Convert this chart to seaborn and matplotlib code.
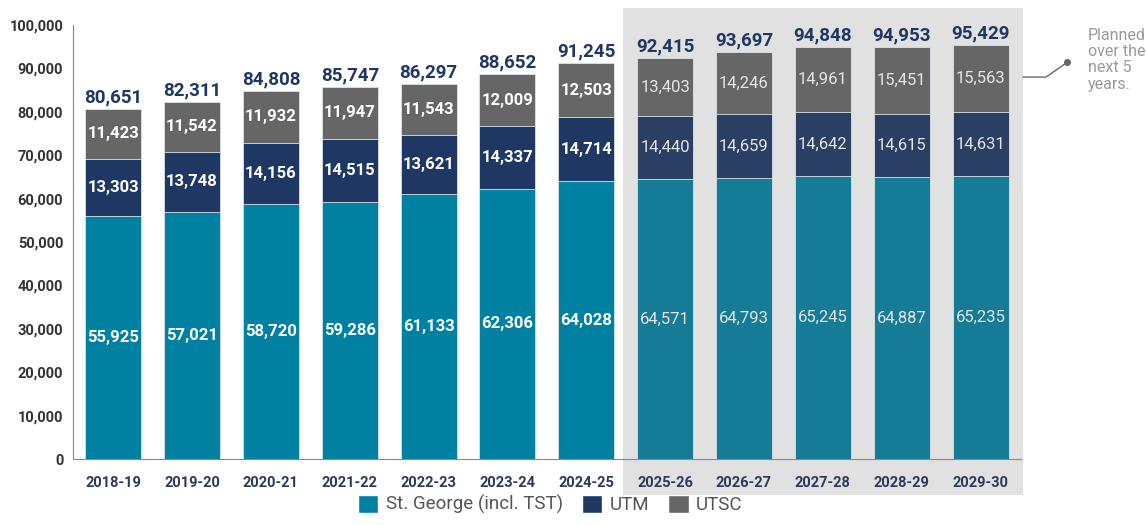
import numpy as np
import pandas as pd
import matplotlib.pyplot as plt
import seaborn as sns
from matplotlib.patches import Rectangle, Patch

# Enrolment data
years = ['2018-19', '2019-20', '2020-21', '2021-22', '2022-23', '2023-24', '2024-25',
         '2025-26', '2026-27', '2027-28', '2028-29', '2029-30']
st_george = [55925, 57021, 58720, 59286, 61133, 62306, 64028, 64571, 64793, 65245, 64887, 65235]
utm = [13303, 13748, 14156, 14515, 13621, 14337, 14714, 14440, 14659, 14642, 14615, 14631]
utsc = [11423, 11542, 11932, 11947, 11543, 12009, 12503, 13403, 14246, 14961, 15451, 15563]
# published totals (rounded, so not always the exact sum)
totals = [80651, 82311, 84808, 85747, 86297, 88652, 91245, 92415, 93697, 94848, 94953, 95429]
n_actual = 7  # first planned year index

df = pd.DataFrame({'year': years, 'sg': st_george, 'utm': utm, 'utsc': utsc, 'total_lbl': totals})
df['sg_utm'] = df['sg'] + df['utm']
df['total'] = df['sg_utm'] + df['utsc']

sns.set_style('white')
plt.rcParams['font.family'] = ['Roboto', 'DejaVu Sans']

# colours: planned years sit on a grey band, so they look a bit muted
c_sg = ['#0081A1'] * n_actual + ['#167B97'] * (len(years) - n_actual)
c_utm = ['#1F3763'] * n_actual + ['#2A3F63'] * (len(years) - n_actual)
c_utsc = ['#666666'] * len(years)

fig = plt.figure(figsize=(11.46, 5.25), dpi=100)
ax = fig.add_axes([0.0637, 0.1257, 0.827, 0.8267])

# shaded band behind the planned years (covers tick labels as well)
ax.add_patch(Rectangle((n_actual - 0.54, -8300), len(years) - n_actual + 0.08, 112200,
                       facecolor='#E1E1E1', edgecolor='none', clip_on=False, zorder=0))

# stacked bars drawn as cumulative layers
for col, colors in [('total', c_utsc), ('sg_utm', c_utm), ('sg', c_sg)]:
    sns.barplot(data=df, x='year', y=col, hue='year', palette=colors, legend=False,
                width=0.71, ax=ax, edgecolor='#DDE3EA', linewidth=0.6, saturation=1, zorder=2)

for i, row in df.iterrows():
    planned = i >= n_actual
    tc = '#E6E6E6' if planned else 'white'
    fw = 'normal' if planned else 'bold'
    ax.text(i, row['sg'] / 2, f"{row['sg']:,}", ha='center', va='center',
            color=tc, fontsize=12, fontweight=fw, zorder=3)
    ax.text(i, row['sg'] + row['utm'] / 2, f"{row['utm']:,}", ha='center', va='center',
            color=tc, fontsize=12, fontweight=fw, zorder=3)
    ax.text(i, row['sg_utm'] + row['utsc'] / 2, f"{row['utsc']:,}", ha='center', va='center',
            color=tc, fontsize=12, fontweight=fw, zorder=3)
    ax.text(i, row['total'] + 600, f"{row['total_lbl']:,}", ha='center', va='bottom',
            color='#1F3763', fontsize=13.5, fontweight='bold', zorder=3)

ax.set_xlim(-0.51, len(years) - 0.49)
ax.set_ylim(0, 100000)
ax.set_yticks(np.arange(0, 100001, 10000))
ax.set_yticklabels([f'{v:,}' for v in range(0, 100001, 10000)])
ax.set_xlabel('')
ax.set_ylabel('')
ax.tick_params(axis='y', labelsize=10.5, colors='#888888', labelcolor='#333333',
               length=4, width=0.8, pad=3)
ax.tick_params(axis='x', labelsize=10.5, colors='#888888', labelcolor='#2B3A5C',
               length=4, width=0.8, pad=8)
for lab in ax.get_xticklabels() + ax.get_yticklabels():
    lab.set_fontweight('bold')

for s in ['top', 'right']:
    ax.spines[s].set_visible(False)
for s in ['left', 'bottom']:
    ax.spines[s].set_color('#888888')
    ax.spines[s].set_linewidth(0.8)

# callout for the planned years
ax.plot([11.54, 11.83, 12.1], [88000, 88000, 91400], color='#666666', lw=1,
        clip_on=False, zorder=3)
ax.plot([12.1], [91400], marker='o', ms=4, color='#666666', clip_on=False, zorder=3)
ax.text(12.36, 99300, 'Planned\nover the\nnext 5\nyears.', ha='left', va='top',
        color='#999999', fontsize=11.5, linespacing=1.1)

handles = [Patch(facecolor='#0081A1', label='St. George (incl. TST)'),
           Patch(facecolor='#1F3763', label='UTM'),
           Patch(facecolor='#666666', label='UTSC')]
fig.legend(handles=handles, loc='lower center', bbox_to_anchor=(0.48, -0.012), ncol=3,
           frameon=False, fontsize=13.5, handlelength=1.1, handleheight=1.1,
           handletextpad=0.4, columnspacing=1.0, labelcolor='#555555')

fig.savefig('out.png', dpi=100)
